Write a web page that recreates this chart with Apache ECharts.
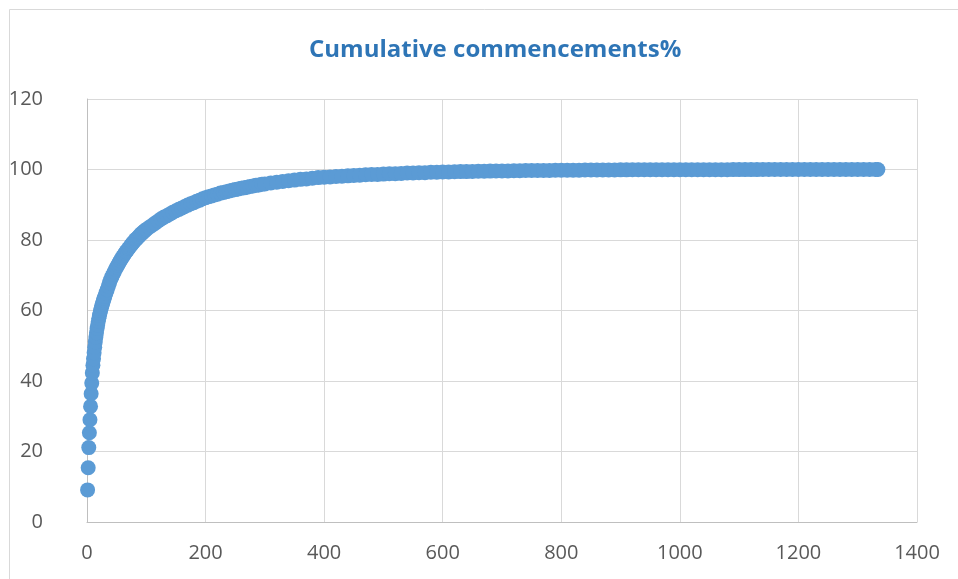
<!DOCTYPE html>
<html>
<head>
<meta charset="utf-8">
<title>Cumulative commencements%</title>
<script src="https://cdn.jsdelivr.net/npm/echarts@6/dist/echarts.min.js"></script>
<style>
  html, body { margin: 0; padding: 0; background: #ffffff; }
  #chart { width: 958px; height: 579px; }
</style>
</head>
<body>
<div id="chart"></div>
<script>
// Chart title
const chartTitle = 'Cumulative commencements%';

// Axis tick values
const xTicks = [0, 200, 400, 600, 800, 1000, 1200, 1400];
const yTicks = [0, 20, 40, 60, 80, 100, 120];

// Day number of each plotted observation
const days = [
  1, 2, 3, 4, 5, 6, 7, 8, 9, 10,
  11, 12, 13, 14, 15, 16, 17, 18, 19, 20,
  21, 22, 23, 24, 25, 26, 27, 28, 29, 30,
  32, 34, 36, 38, 40, 42, 44, 46, 48, 50,
  52, 54, 56, 58, 60, 62, 64, 66, 68, 70,
  72, 74, 76, 78, 80, 82, 84, 86, 88, 90,
  92, 94, 96, 98, 100,
  105, 110, 115, 120, 125, 130, 135, 140, 145, 150,
  155, 160, 165, 170, 175, 180, 185, 190, 195, 200,
  205, 210, 215, 220, 225, 230, 235, 240, 245, 250,
  255, 260, 265, 270, 275, 280, 285, 290, 295, 300,
  310, 320, 330, 340, 350, 360, 370, 380, 390, 400,
  410, 420, 430, 440, 450, 460, 470, 480, 490, 500,
  510, 520, 530, 540, 550, 560, 570, 580, 590, 600,
  610, 620, 630, 640, 650, 660, 670, 680, 690, 700,
  710, 720, 730, 740, 750, 760, 770, 780, 790, 800,
  810, 820, 830, 840, 850, 860, 870, 880, 890, 900,
  910, 920, 930, 940, 950, 960, 970, 980, 990, 1000,
  1010, 1020, 1030, 1040, 1050, 1060, 1070, 1080, 1090, 1100,
  1110, 1120, 1130, 1140, 1150, 1160, 1170, 1180, 1190, 1200,
  1210, 1220, 1230, 1240, 1250, 1260, 1270, 1280, 1290, 1300,
  1310, 1320, 1330, 1334
];

// Cumulative share of commencements (%) on each of those days
const cumulativePct = [
  9.1, 15.4, 21.1, 25.3, 29.0, 32.8, 36.4, 39.4, 42.3, 44.5,
  46.3, 48.0, 49.6, 51.1, 52.5, 53.7, 54.9, 55.9, 56.9, 57.8,
  58.6, 59.3, 60.0, 60.7, 61.3, 61.9, 62.4, 63.0, 63.5, 64.0,
  65.0, 65.9, 66.9, 67.9, 68.8, 69.6, 70.3, 71.0, 71.7, 72.3,
  72.9, 73.5, 74.1, 74.7, 75.2, 75.7, 76.2, 76.7, 77.1, 77.6,
  78.0, 78.5, 78.9, 79.3, 79.7, 80.1, 80.4, 80.8, 81.1, 81.5,
  81.8, 82.1, 82.4, 82.7, 83.0,
  83.6, 84.2, 84.8, 85.4, 86.0, 86.5, 86.9, 87.4, 87.9, 88.3,
  88.7, 89.1, 89.5, 89.9, 90.3, 90.6, 91.0, 91.3, 91.7, 92.0,
  92.3, 92.5, 92.8, 93.0, 93.3, 93.5, 93.7, 93.9, 94.1, 94.3,
  94.5, 94.7, 94.8, 95.0, 95.2, 95.3, 95.5, 95.6, 95.8, 95.9,
  96.2, 96.4, 96.6, 96.8, 97.0, 97.2, 97.3, 97.5, 97.7, 97.8,
  97.9, 98.0, 98.1, 98.2, 98.3, 98.4, 98.5, 98.6, 98.6, 98.7,
  98.8, 98.8, 98.9, 99.0, 99.0, 99.1, 99.1, 99.2, 99.2, 99.3,
  99.3, 99.35, 99.4, 99.4, 99.45, 99.5, 99.5, 99.55, 99.6, 99.6,
  99.6, 99.65, 99.65, 99.7, 99.7, 99.7, 99.75, 99.75, 99.8, 99.8,
  99.8, 99.8, 99.82, 99.84, 99.85, 99.86, 99.87, 99.88, 99.89, 99.9,
  99.9, 99.91, 99.91, 99.92, 99.92, 99.93, 99.93, 99.93, 99.94, 99.94,
  99.95, 99.95, 99.95, 99.95, 99.96, 99.96, 99.96, 99.96, 99.97, 99.97,
  99.97, 99.97, 99.97, 99.98, 99.98, 99.98, 99.98, 99.98, 99.98, 99.99,
  99.99, 99.99, 99.99, 99.99, 99.99, 99.99, 100, 100, 100, 100,
  100, 100, 100, 100
];

const points = days.map((d, i) => [d, cumulativePct[i]]);

const labelFont = '"Open Sans", "Liberation Sans", sans-serif';
const gridColor = '#d9d9d9';
const axisColor = '#bfbfbf';

const chart = echarts.init(document.getElementById('chart'), null, { renderer: 'canvas' });

chart.setOption({
  backgroundColor: '#ffffff',
  animation: false,
  title: {
    text: chartTitle,
    left: 304,
    top: 33,
    textStyle: {
      fontFamily: labelFont,
      fontWeight: 'bold',
      fontSize: 24,
      color: '#2e75b6'
    }
  },
  graphic: [{
    type: 'rect',
    silent: true,
    shape: { x: 9.5, y: 9.5, width: 1000, height: 1000 },
    style: { fill: 'none', stroke: gridColor, lineWidth: 1 }
  }],
  grid: {
    left: 87,
    right: 41,
    top: 99,
    bottom: 57,
    containLabel: false
  },
  xAxis: {
    type: 'value',
    min: xTicks[0],
    max: xTicks[xTicks.length - 1],
    interval: xTicks[1] - xTicks[0],
    axisLine: { show: true, lineStyle: { color: axisColor, width: 1 } },
    axisTick: { show: false },
    splitLine: { show: true, lineStyle: { color: gridColor, width: 1 } },
    axisLabel: {
      margin: 21,
      fontFamily: labelFont,
      fontSize: 20,
      color: '#595959',
      formatter: (v) => String(v)
    }
  },
  yAxis: {
    type: 'value',
    min: yTicks[0],
    max: yTicks[yTicks.length - 1],
    interval: yTicks[1] - yTicks[0],
    axisLine: { show: true, lineStyle: { color: axisColor, width: 1 } },
    axisTick: { show: false },
    splitLine: { show: true, lineStyle: { color: gridColor, width: 1 } },
    axisLabel: {
      margin: 44,
      fontFamily: labelFont,
      fontSize: 20,
      color: '#595959',
      formatter: (v) => String(v)
    }
  },
  series: [{
    name: chartTitle,
    type: 'scatter',
    data: points,
    symbol: 'circle',
    symbolSize: 15,
    itemStyle: { color: '#5b9bd5', opacity: 1 },
    emphasis: { disabled: true }
  }]
});
</script>
</body>
</html>
